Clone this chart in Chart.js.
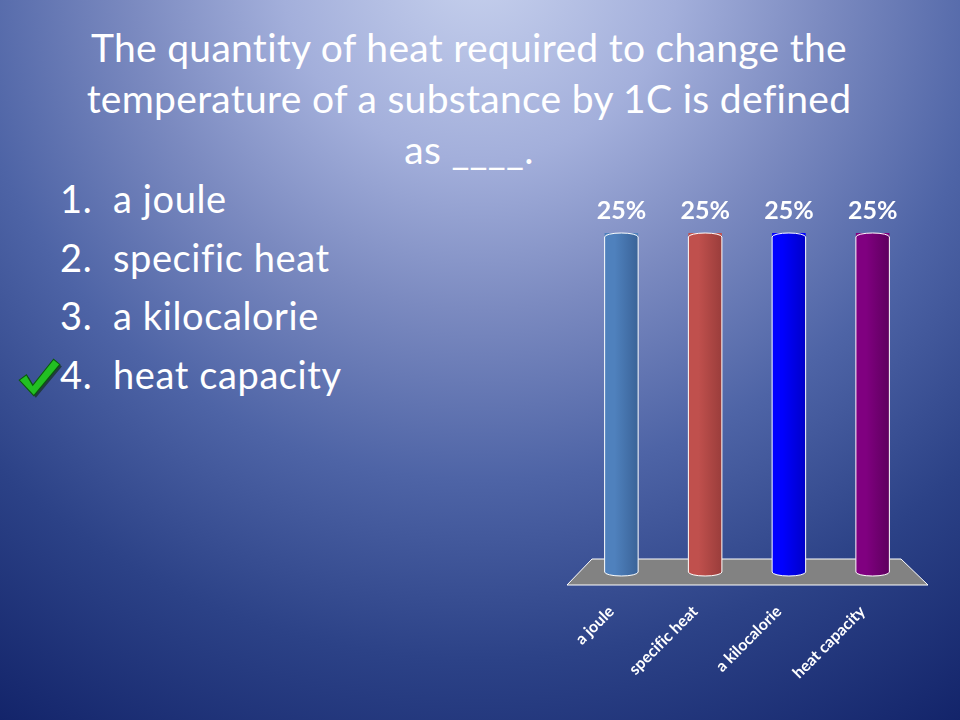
<!DOCTYPE html>
<html>
<head>
<meta charset="utf-8">
<script src="https://cdn.jsdelivr.net/npm/chart.js@4.4.1/dist/chart.umd.min.js"></script>
<style>
  html, body { margin: 0; padding: 0; }
  body {
    width: 960px; height: 720px; overflow: hidden; position: relative;
    font-family: Lato, "Open Sans", sans-serif; color: #fff;
    font-variant-ligatures: none;
    background: radial-gradient(circle at 480px -40px, #c8d2ee 0px, #a3afdb 200px, #7b8ac0 350px, #4e64a6 520px, #2c4287 700px, #13246a 900px);
  }
  #title {
    position: absolute; left: 0; top: 22px; width: 938px;
    text-align: center; font-size: 39px; line-height: 51px; letter-spacing: 0.3px;
  }
  #answers {
    position: absolute; left: 60px; top: 169px; margin: 0; padding: 0;
    list-style: none; font-size: 38px; line-height: 58.7px; letter-spacing: 0.6px;
  }
  #answers span { display: inline-block; width: 53px; }
  #check { position: absolute; left: 14px; top: 355px; }
  #chartBox { position: absolute; left: 560px; top: 180px; width: 400px; height: 520px; }
</style>
</head>
<body>
<div id="title">The quantity of heat required to change the<br>temperature of a substance by 1C is defined<br>as ____.</div>
<ul id="answers"></ul>
<svg id="check" width="50" height="46" viewBox="0 0 48 44">
  <polygon points="5,24 12,19 18,29 38,4 44,9 19,39" fill="#14301a" opacity="0.7" transform="translate(2,2)"/>
  <polygon points="5,24 12,19 18,29 38,4 44,9 19,39" fill="#22c022" stroke="#0a5a0a" stroke-width="1"/>
</svg>
<div id="chartBox"><canvas id="grafico"></canvas></div>
<script>
// respostas e votos
var respostas = ['a joule', 'specific heat', 'a kilocalorie', 'heat capacity'];
var votos = [25, 25, 25, 25];
var cores = ['#4f81bd', '#c0504d', '#0000ff', '#800080'];
var coresEscuras = ['#3a6398', '#9a3d3b', '#0000c8', '#5e005e'];

var lista = document.getElementById('answers');
respostas.forEach(function (r, i) {
  var li = document.createElement('li');
  li.innerHTML = '<span>' + (i + 1) + '.</span>' + r;
  lista.appendChild(li);
});

// chao cinza embaixo das barras
var chaoPlugin = {
  id: 'chao',
  beforeDatasetsDraw: function (chart) {
    var ctx = chart.ctx;
    var a = chart.chartArea;
    var base = chart.scales.y.getPixelForValue(0);
    ctx.save();
    ctx.beginPath();
    ctx.moveTo(a.left + 12.5, base - 13);
    ctx.lineTo(a.right - 13.5, base - 13);
    ctx.lineTo(a.right + 13.5, base + 13);
    ctx.lineTo(a.left - 12.5, base + 13);
    ctx.closePath();
    ctx.fillStyle = '#828282';
    ctx.fill();
    ctx.strokeStyle = '#ffffff';
    ctx.lineWidth = 1;
    ctx.stroke();
    ctx.restore();
  }
};

// cilindros + rotulos de porcentagem
var cilindroPlugin = {
  id: 'cilindro',
  afterDatasetsDraw: function (chart) {
    var ctx = chart.ctx;
    var meta = chart.getDatasetMeta(0);
    meta.data.forEach(function (bar, i) {
      var w = bar.width;
      var l = bar.x - w / 2;
      var r = bar.x + w / 2;
      var ry = 4;
      var g = ctx.createLinearGradient(l, 0, r, 0);
      g.addColorStop(0, cores[i]);
      g.addColorStop(0.3, cores[i]);
      g.addColorStop(1, coresEscuras[i]);
      ctx.save();
      ctx.beginPath();
      ctx.moveTo(l, bar.y + ry);
      ctx.ellipse(bar.x, bar.y + ry, w / 2, ry, 0, Math.PI, 2 * Math.PI);
      ctx.lineTo(r, bar.base);
      ctx.ellipse(bar.x, bar.base, w / 2, ry, 0, 0, Math.PI);
      ctx.closePath();
      ctx.fillStyle = g;
      ctx.fill();
      ctx.strokeStyle = '#ffffff';
      ctx.lineWidth = 1;
      ctx.stroke();

      ctx.fillStyle = '#ffffff';
      ctx.font = 'bold 25px Lato';
      ctx.textAlign = 'center';
      ctx.fillText(votos[i] + '%', bar.x, bar.y - 14);
      ctx.restore();
    });
  }
};

var myChart = new Chart(document.getElementById('grafico').getContext('2d'), {
  type: 'bar',
  data: {
    labels: respostas,
    datasets: [{
      data: votos,
      backgroundColor: cores,
      barPercentage: 0.4,
      categoryPercentage: 1
    }]
  },
  options: {
    responsive: true,
    maintainAspectRatio: false,
    animation: false,
    layout: { padding: { left: 19.5, right: 45.5, top: 53, bottom: 0 } },
    plugins: { legend: { display: false }, tooltip: { enabled: false } },
    scales: {
      x: {
        grid: { display: false },
        border: { display: false },
        afterFit: function (scale) { scale.height = 128; },
        ticks: {
          color: '#ffffff',
          font: { family: 'Lato', size: 16, weight: 'bold' },
          autoSkip: false,
          maxRotation: 45,
          minRotation: 45,
          padding: 22,
          labelOffset: -10
        }
      },
      y: { display: false, min: 0, max: 25 }
    }
  },
  plugins: [chaoPlugin, cilindroPlugin]
});
</script>
</body>
</html>
